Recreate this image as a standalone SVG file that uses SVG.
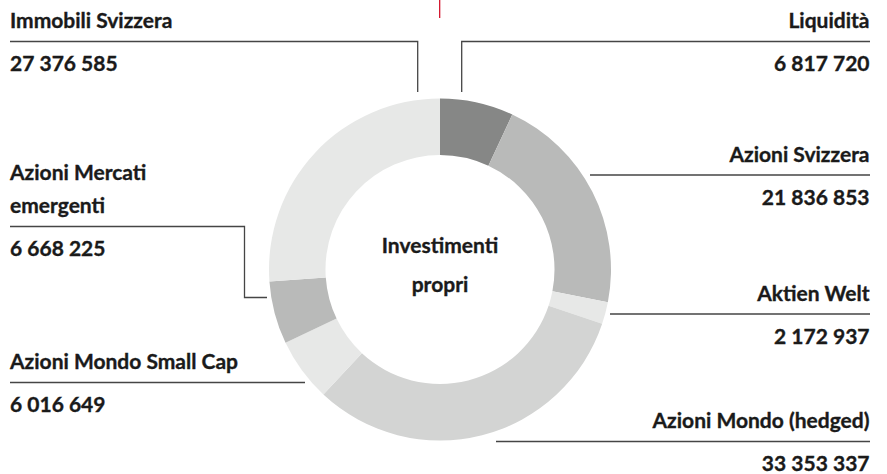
<svg xmlns="http://www.w3.org/2000/svg" width="887" height="474" viewBox="0 0 887 474">
<style>
.t{font-family:Lato,"Open Sans",sans-serif;font-weight:700;font-size:21px;fill:#1a1a1a;stroke:#1a1a1a;stroke-width:0.35}
.e{text-anchor:end}
.m{text-anchor:middle}
.c{fill:none;stroke:#454545;stroke-width:1.3}
</style>
<rect width="887" height="474" fill="#ffffff"/>
<g id="chart">
<path id="seg-liquidita" fill="#868786" d="M440 98.5 A171 171 0 0 1 512.27 114.52 L488.39 165.73 A114.5 114.5 0 0 0 440 155 Z"/>
<path id="seg-svizzera" fill="#b9bab9" d="M512.27 114.52 A171 171 0 0 1 607.86 302.13 L552.40 291.35 A114.5 114.5 0 0 0 488.39 165.73 Z"/>
<path id="seg-welt" fill="#e7e8e7" d="M607.86 302.13 A171 171 0 0 1 602.16 323.76 L548.58 305.83 A114.5 114.5 0 0 0 552.40 291.35 Z"/>
<path id="seg-hedged" fill="#d3d4d3" d="M602.16 323.76 A171 171 0 0 1 323.38 394.56 L361.91 353.24 A114.5 114.5 0 0 0 548.58 305.83 Z"/>
<path id="seg-smallcap" fill="#e7e8e7" d="M323.38 394.56 A171 171 0 0 1 285.53 342.85 L336.57 318.61 A114.5 114.5 0 0 0 361.91 353.24 Z"/>
<path id="seg-emergenti" fill="#b9bab9" d="M285.53 342.85 A171 171 0 0 1 269.42 281.43 L325.78 277.49 A114.5 114.5 0 0 0 336.57 318.61 Z"/>
<path id="seg-immobili" fill="#e7e8e7" d="M269.42 281.43 A171 171 0 0 1 440 98.5 L440 155 A114.5 114.5 0 0 0 325.78 277.49 Z"/>
</g>
<g id="center-label">
<text class="t m" x="440" y="253">Investimenti</text>
<text class="t m" x="440" y="292">propri</text>
</g>
<g id="connectors">
<line x1="439.7" y1="0" x2="439.7" y2="18" stroke="#d0021b" stroke-width="1.2"/>
<polyline class="c" points="10,41.5 417.7,41.5 417.7,92"/>
<polyline class="c" points="461.7,92 461.7,41.5 870,41.5"/>
<line class="c" x1="590" y1="175" x2="870" y2="175"/>
<line class="c" x1="610" y1="314" x2="870" y2="314"/>
<line class="c" x1="496" y1="441.5" x2="870" y2="441.5"/>
<polyline class="c" points="10,226.5 244.5,226.5 244.5,297.5 267,297.5"/>
<line class="c" x1="10" y1="382.5" x2="305" y2="382.5"/>
</g>
<g id="label-immobili">
<text class="t" x="10" y="27.5">Immobili Svizzera</text>
<text class="t" x="10" y="71">27 376 585</text>
</g>
<g id="label-liquidita">
<text class="t e" x="869.5" y="27.5">Liquidità</text>
<text class="t e" x="869.5" y="71">6 817 720</text>
</g>
<g id="label-svizzera">
<text class="t e" x="869.5" y="161.5">Azioni Svizzera</text>
<text class="t e" x="869.5" y="205">21 836 853</text>
</g>
<g id="label-welt">
<text class="t e" x="869.5" y="301">Aktien Welt</text>
<text class="t e" x="869.5" y="344">2 172 937</text>
</g>
<g id="label-hedged">
<text class="t e" x="869.5" y="428">Azioni Mondo (hedged)</text>
<text class="t e" x="869.5" y="471">33 353 337</text>
</g>
<g id="label-emergenti">
<text class="t" x="10" y="180">Azioni Mercati</text>
<text class="t" x="10" y="213">emergenti</text>
<text class="t" x="10" y="256">6 668 225</text>
</g>
<g id="label-smallcap">
<text class="t" x="10" y="368.5">Azioni Mondo Small Cap</text>
<text class="t" x="10" y="412">6 016 649</text>
</g>
</svg>
